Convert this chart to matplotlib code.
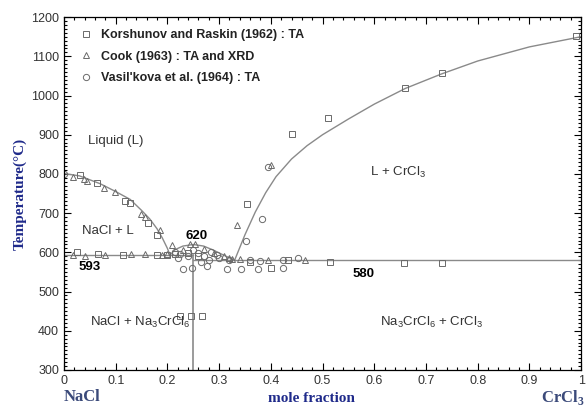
import matplotlib.pyplot as plt
from matplotlib.ticker import MultipleLocator

plt.rcParams['font.family'] = ['Liberation Sans', 'DejaVu Sans']
plt.rcParams['mathtext.fontset'] = 'custom'
plt.rcParams['mathtext.rm'] = 'Liberation Sans'
plt.rcParams['mathtext.bf'] = 'Liberation Serif:bold'

korshunov_x = [0.031, 0.064, 0.118, 0.128, 0.162, 0.18,
               0.025, 0.066, 0.114, 0.18, 0.20, 0.215, 0.24, 0.26,
               0.224, 0.246, 0.267,
               0.354, 0.44, 0.51, 0.66, 0.73, 0.99,
               0.36, 0.40, 0.433, 0.515, 0.658, 0.73]
korshunov_t = [796, 778, 730, 727, 674, 643,
               602, 595, 593, 593, 593, 595, 598, 590,
               437, 437, 437,
               724, 903, 943, 1020, 1058, 1152,
               575, 560, 580, 575, 574, 574]

cook_x = [0.018, 0.039, 0.045, 0.077, 0.099, 0.149, 0.157, 0.186,
          0.018, 0.04, 0.079, 0.13, 0.157, 0.19, 0.20,
          0.209, 0.244, 0.253, 0.23, 0.27, 0.29, 0.31, 0.32, 0.325,
          0.335, 0.40, 0.34, 0.395, 0.466]
cook_t = [793, 786, 783, 763, 755, 699, 689, 656,
          593, 591, 592, 597, 595, 593, 596,
          618, 621, 621, 605, 608, 598, 590, 585, 583,
          671, 822, 582, 580, 580]

vasilkova_x = [0.0, 0.23, 0.248, 0.277, 0.315, 0.342, 0.375, 0.424, 0.424, 0.453,
               0.352, 0.383, 0.395,
               0.215, 0.225, 0.24, 0.25, 0.26, 0.27, 0.285, 0.295, 0.30, 0.32,
               0.36, 0.38, 0.22, 0.265, 0.28]
vasilkova_t = [801, 557, 560, 565, 557, 557, 557, 560, 580, 585,
               630, 684, 818,
               600, 595, 590, 605, 598, 590, 600, 592, 585, 580,
               580, 578, 585, 575, 580]

# Phase boundaries
liq_left_x = [0.0, 0.03, 0.07, 0.10, 0.128, 0.15, 0.166, 0.18, 0.19, 0.20, 0.205]
liq_left_t = [801, 795, 775, 755, 735, 707, 685, 660, 637, 610, 593]

dome_x = [0.205, 0.215, 0.23, 0.25, 0.27, 0.29, 0.31, 0.33]
dome_t = [593, 607, 616, 620, 616, 605, 592, 580]

liq_right_x = [0.33, 0.35, 0.37, 0.39, 0.41, 0.44, 0.47, 0.50, 0.55, 0.60, 0.66, 0.73, 0.80, 0.90, 1.0]
liq_right_t = [580, 645, 703, 752, 793, 838, 872, 900, 940, 978, 1018, 1055, 1088, 1124, 1150]

eutectic_left = 593
eutectic_right = 580
compound_x = 0.25

x_ticks = [0, 0.1, 0.2, 0.3, 0.4, 0.5, 0.6, 0.7, 0.8, 0.9, 1]
x_ticklabels = ['0', '0.1', '0.2', '0.3', '0.4', '0.5', '0.6', '0.7', '0.8', '0.9', '1']

line_col = '#8a8a8a'
mark_col = '#6a6a6a'
blue = '#1f2a8a'
blue2 = '#3b4a7a'

fig = plt.figure(figsize=(5.87, 4.07), dpi=100)
ax = fig.add_axes([0.109, 0.091, 0.881, 0.867])

# lines
ax.plot(liq_left_x, liq_left_t, color=line_col, lw=1)
ax.plot(dome_x, dome_t, color=line_col, lw=1)
ax.plot(liq_right_x, liq_right_t, color=line_col, lw=1)
ax.plot([0, compound_x], [eutectic_left, eutectic_left], color=line_col, lw=1)
ax.plot([compound_x, 1], [eutectic_right, eutectic_right], color=line_col, lw=1)
ax.plot([compound_x, compound_x], [300, eutectic_left], color=line_col, lw=1.2)

# points
ax.plot(korshunov_x, korshunov_t, 's', ms=4, mfc='none', mec=mark_col, mew=0.7,
        label='Korshunov and Raskin (1962) : TA')
ax.plot(cook_x, cook_t, '^', ms=4.5, mfc='none', mec=mark_col, mew=0.7,
        label='Cook (1963) : TA and XRD')
ax.plot(vasilkova_x, vasilkova_t, 'o', ms=4.5, mfc='none', mec=mark_col, mew=0.7,
        label="Vasil'kova et al. (1964) : TA")

leg = ax.legend(loc='upper left', frameon=False, fontsize=9, handlelength=1.0,
                handletextpad=0.7, labelspacing=0.75, borderaxespad=0.3,
                bbox_to_anchor=(0.013, 0.99))
for t in leg.get_texts():
    t.set_fontweight('bold')
    t.set_color('#222222')

# region labels
ax.text(0.1, 885, 'Liquid (L)', fontsize=9.5, color='#333333', ha='center', va='center')
ax.text(0.085, 655, 'NaCl + L', fontsize=9.5, color='#333333', ha='center', va='center')
ax.text(0.645, 805, r'L + CrCl$_3$', fontsize=9.5, color='#333333', ha='center', va='center')
ax.text(0.147, 420, r'NaCl + Na$_3$CrCl$_6$', fontsize=9.5, color='#333333', ha='center', va='center')
ax.text(0.71, 420, r'Na$_3$CrCl$_6$ + CrCl$_3$', fontsize=9.5, color='#333333', ha='center', va='center')
ax.text(0.257, 641, '620', fontsize=9.5, fontweight='bold', ha='center', va='center')
ax.text(0.05, 562, '593', fontsize=9.5, fontweight='bold', ha='center', va='center')
ax.text(0.58, 545, '580', fontsize=9.5, fontweight='bold', ha='center', va='center')

# axes
ax.set_xlim(0, 1)
ax.set_ylim(300, 1200)
ax.set_xticks(x_ticks)
ax.set_xticklabels(x_ticklabels)
ax.xaxis.set_minor_locator(MultipleLocator(0.02))
ax.yaxis.set_major_locator(MultipleLocator(100))
ax.yaxis.set_minor_locator(MultipleLocator(10))
ax.tick_params(which='both', direction='in', top=True, right=True, labelsize=9,
               labelcolor='#333333', width=0.8)
ax.tick_params(which='major', length=5)
ax.tick_params(which='minor', length=2.5)
for s in ax.spines.values():
    s.set_linewidth(0.9)

ax.set_ylabel('Temperature(\u00b0C)', fontsize=11, fontweight='bold', family='Liberation Serif',
              color=blue, labelpad=3)
fig.text(0.53, 0.022, 'mole fraction', fontsize=11, fontweight='bold', family='Liberation Serif',
         color=blue, ha='center', va='center')
fig.text(0.109, 0.024, 'NaCl', fontsize=12, fontweight='bold', family='Liberation Serif',
         color=blue2, ha='left', va='center')
fig.text(0.995, 0.024, r'CrCl$_\mathbf{3}$', fontsize=12, fontweight='bold', family='Liberation Serif',
         color=blue2, ha='right', va='center')

fig.savefig('out.png', dpi=100)
